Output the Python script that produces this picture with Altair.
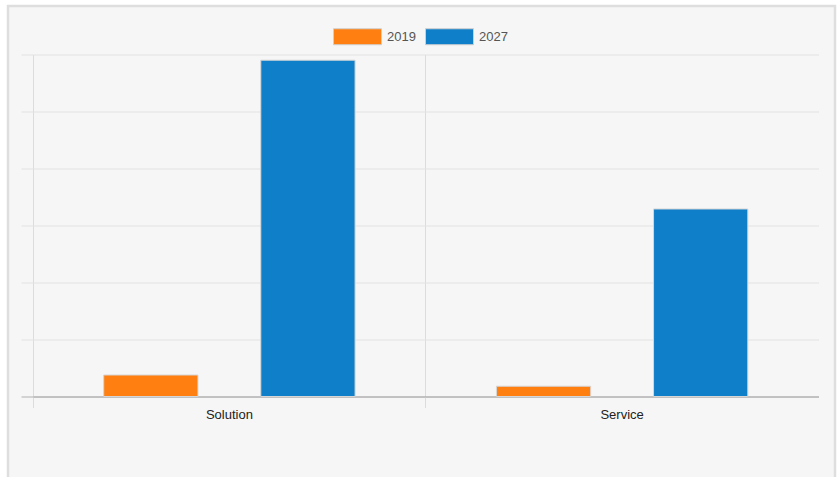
import altair as alt
import pandas as pd

categories = ["Solution", "Service"]
years = ["2019", "2027"]
values_2019 = [0.377, 0.18]
values_2027 = [5.90, 3.29]
y_ticks = [0, 1, 2, 3, 4, 5, 6]

rows = []
for i, c in enumerate(categories):
    rows.append({"segment": c, "year": "2019", "value": values_2019[i]})
    rows.append({"segment": c, "year": "2027", "value": values_2027[i]})
df = pd.DataFrame(rows)

one = alt.Data(values=[{"f": 1}])

outer = alt.Chart(one).mark_rect(
    fillOpacity=0, stroke="#ffffff", strokeWidth=12
).encode(
    x=alt.value(-32), x2=alt.value(809), y=alt.value(-55.5), y2=alt.value(440)
)

frame = alt.Chart(one).mark_rect(
    fillOpacity=0, stroke="#dedede", strokeWidth=2.5
).encode(
    x=alt.value(-25), x2=alt.value(802), y=alt.value(-48.5), y2=alt.value(440)
)

bars = alt.Chart(df).mark_bar(stroke="#d6d6d6", strokeWidth=1).encode(
    x=alt.X(
        "segment:N",
        sort=categories,
        scale=alt.Scale(paddingInner=0, paddingOuter=0),
        axis=alt.Axis(
            title=None,
            labelAngle=0,
            labelFont="Liberation Sans",
            labelFontSize=13,
            labelColor="#222222",
            labelPadding=1,
            domain=True,
            domainColor="#b0b0b0",
            domainWidth=1,
            ticks=True,
            tickSize=11,
            tickColor="#dcdcdc",
            grid=True,
            gridColor="#dcdcdc",
            bandPosition=0,
        ),
    ),
    xOffset=alt.XOffset(
        "year:N", sort=years, scale=alt.Scale(paddingInner=0.4, paddingOuter=0.45)
    ),
    y=alt.Y(
        "value:Q",
        scale=alt.Scale(domain=[0, 6], nice=False),
        axis=alt.Axis(
            title=None,
            labels=False,
            domain=False,
            values=y_ticks,
            ticks=True,
            tickSize=12,
            tickColor=alt.condition("datum.value == 0", alt.value("#b0b0b0"), alt.value("#e2e2e2")),
            grid=True,
            gridColor=alt.condition("datum.value == 0", alt.value("#b0b0b0"), alt.value("#e2e2e2")),
        ),
    ),
    color=alt.Color(
        "year:N",
        sort=years,
        scale=alt.Scale(domain=years, range=["#ff7f11", "#0f7fc9"]),
        legend=alt.Legend(
            title=None,
            orient="none",
            direction="horizontal",
            legendX=300,
            legendY=-42.5,
            padding=0,
            symbolType="M-1,-0.333 L1,-0.333 L1,0.333 L-1,0.333 Z",
            symbolSize=2304,
            symbolStrokeColor="#cfcfcf",
            symbolStrokeWidth=1,
            symbolOpacity=1,
            labelFont="Liberation Sans",
            labelFontSize=13,
            labelColor="#555555",
            labelOffset=5,
            columnPadding=7,
        ),
    ),
)

chart = alt.layer(bars, outer, frame).properties(
    width=785.5,
    height=342,
    padding={"left": 33, "top": 54.5, "right": 21, "bottom": 80},
    autosize=alt.AutoSizeParams(type="none"),
    background="#f6f6f6",
).configure_view(stroke=None)

chart.save("out.html", embed_options={"renderer": "svg", "actions": False})
